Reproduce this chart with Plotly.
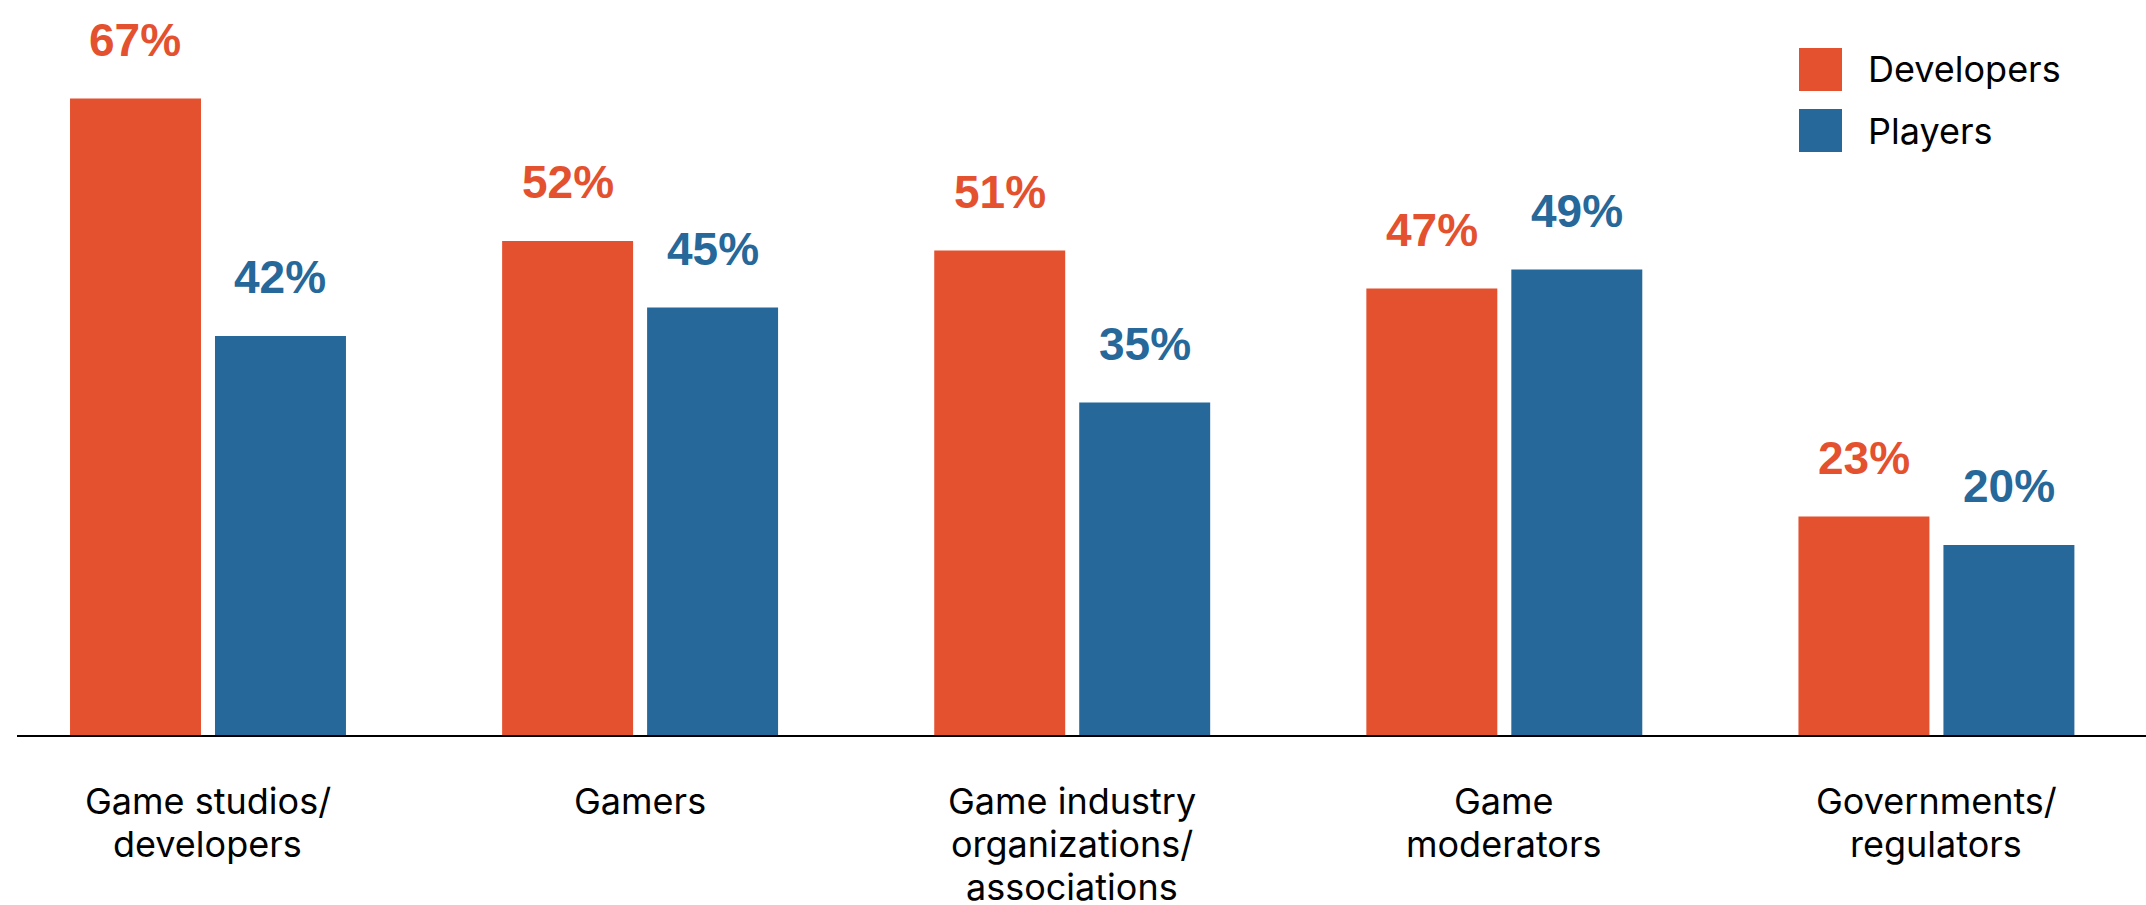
import plotly.graph_objects as go

# Survey results: share of respondents naming each group as responsible
categories = [
    "Game studios/<br>developers",
    "Gamers",
    "Game industry<br>organizations/<br>associations",
    "Game<br>moderators",
    "Governments/<br>regulators",
]
developers = [67, 52, 51, 47, 23]
players = [42, 45, 35, 49, 20]
series_names = ["Developers", "Players"]

ORANGE = "#E4512F"
BLUE = "#256899"
FONT = "Inter"
LABEL_FONT = "Liberation Sans"

W, H = 2146, 905
M_L, M_R, M_T, M_B = 17, 0, 0, 170
PLOT_W = W - M_L - M_R
PLOT_H = H - M_T - M_B


def px_x(px):
    return (px - M_L) / PLOT_W


def px_y(py):
    return (H - M_B - py) / PLOT_H


fig = go.Figure()
fig.add_trace(go.Bar(x=categories, y=developers, name=series_names[0],
                     marker=dict(color=ORANGE, line=dict(width=0)), showlegend=False))
fig.add_trace(go.Bar(x=categories, y=players, name=series_names[1],
                     marker=dict(color=BLUE, line=dict(width=0)), showlegend=False))

# value labels above each bar
annotations = []
for series, color, shift in ((developers, ORANGE, -72.5), (players, BLUE, 72.5)):
    for cat, val in zip(categories, series):
        annotations.append(dict(
            x=cat, y=val, xref="x", yref="y", text=f"<b>{val}%</b>",
            showarrow=False, xanchor="center", yanchor="bottom",
            xshift=shift, yshift=31,
            font=dict(family=LABEL_FONT, size=46, color=color),
        ))

# category labels under the axis, one annotation per line for tight spacing
for cat in categories:
    for k, line in enumerate(cat.split("<br>")):
        annotations.append(dict(
            x=cat, y=0, xref="x", yref="paper", text=line,
            showarrow=False, xanchor="center", yanchor="top",
            yshift=-42 - 43 * k,
            font=dict(family=FONT, size=36, color="#000000"),
        ))

# custom legend with large square swatches
shapes = []
for i, (name, color) in enumerate(zip(series_names, (ORANGE, BLUE))):
    top = 48 + i * 61
    shapes.append(dict(type="rect", xref="paper", yref="paper",
                       x0=px_x(1799), x1=px_x(1842), y0=px_y(top + 43), y1=px_y(top),
                       fillcolor=color, line=dict(width=0)))
    annotations.append(dict(x=px_x(1866), y=px_y(top + 21.5), xref="paper", yref="paper",
                            text=name, showarrow=False, xanchor="left", yanchor="middle",
                            font=dict(family=FONT, size=36, color="#000000")))

fig.update_layout(
    width=W, height=H,
    margin=dict(l=M_L, r=M_R, t=M_T, b=M_B, pad=0, autoexpand=False),
    paper_bgcolor="white", plot_bgcolor="white",
    barmode="group", bargap=0.329, bargroupgap=0.0966,
    annotations=annotations, shapes=shapes,
    showlegend=False,
)
fig.update_xaxes(
    type="category", range=[-0.442, 4.485], automargin=False,
    showline=True, linecolor="#000000", linewidth=2,
    showgrid=False, zeroline=False, ticks="", showticklabels=False,
)
fig.update_yaxes(range=[0, PLOT_H / 9.5], visible=False, showgrid=False,
                 zeroline=False, automargin=False)

fig.write_html("out.html")
